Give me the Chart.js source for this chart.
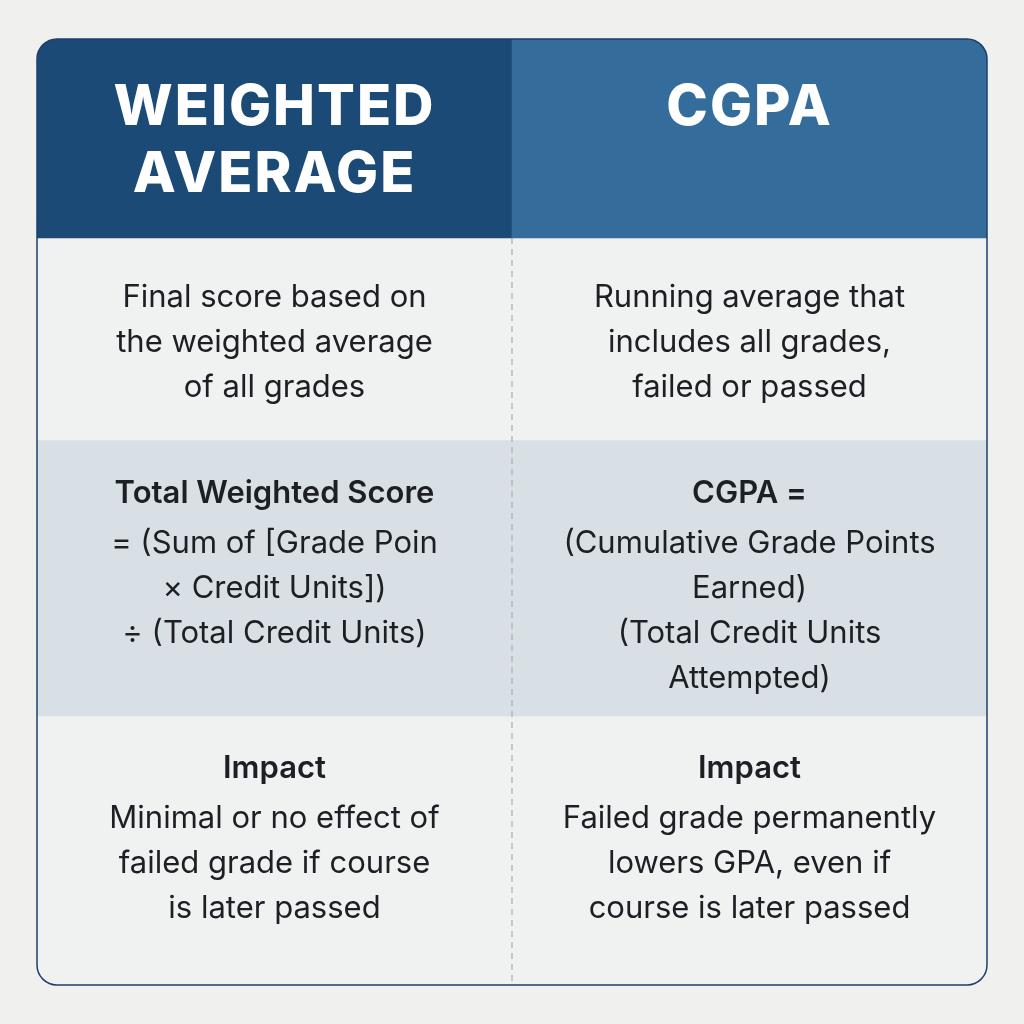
<!DOCTYPE html>
<html><head><meta charset="utf-8">
<script src="https://cdn.jsdelivr.net/npm/chart.js@4"></script>
<style>html,body{margin:0;background:#f0f0ef}canvas{display:block}</style>
</head><body><div style="width:1024px;height:1024px"><canvas id="c"></canvas></div>
<script>
const columns = ["WEIGHTED AVERAGE", "CGPA"];
const headerLines = [["WEIGHTED", "AVERAGE"], ["CGPA"]];
const rowBands = [[0, 199], [199, 401], [401, 677], [677, 946]];
const leftRows = [
  { bold: [], lines: ["Final score based on", "the weighted average", "of all grades"] },
  { bold: ["Total Weighted Score"], lines: ["= (Sum of [Grade Poin", "× Credit Units])", "÷ (Total Credit Units)"] },
  { bold: ["Impact"], lines: ["Minimal or no effect of", "failed grade if course", "is later passed"] }
];
const rightRows = [
  { bold: [], lines: ["Running average that", "includes all grades,", "failed or passed"] },
  { bold: ["CGPA ="], lines: ["(Cumulative Grade Points", "Earned)", "(Total Credit Units", "Attempted)"] },
  { bold: ["Impact"], lines: ["Failed grade permanently", "lowers GPA, even if", "course is later passed"] }
];
const rowTextTop = [[69, 136], [259], [455], [730]];

const leftColors = ["#1b4a77", "#f0f1f1", "#d8e0e6", "#f0f1f1"];
const rightColors = ["#346c9c", "#f0f1f1", "#d8e0e6", "#f0f1f1"];

const card = { l: 37, t: 39, r: 987, b: 985, rad: 20 };
function rr(ctx, x, y, w, h, r) {
  ctx.beginPath(); ctx.moveTo(x + r, y); ctx.arcTo(x + w, y, x + w, y + h, r);
  ctx.arcTo(x + w, y + h, x, y + h, r); ctx.arcTo(x, y + h, x, y, r); ctx.arcTo(x, y, x + w, y, r); ctx.closePath();
}
const tablePlugin = {
  id: 'table',
  beforeDraw(ch) { const c = ch.ctx; c.save(); c.fillStyle = '#f0f0ef'; c.fillRect(0, 0, ch.width, ch.height); c.restore(); },
  beforeDatasetsDraw(ch) { const a = ch.chartArea, c = ch.ctx; c.save(); rr(c, a.left, a.top, a.right - a.left, a.bottom - a.top, card.rad); c.clip(); },
  afterDatasetsDraw(ch) {
    const c = ch.ctx, a = ch.chartArea, x = ch.scales.x, y = ch.scales.y;
    c.restore();
    const mid = (x.getPixelForValue(0) + x.getPixelForValue(1)) / 2;
    c.save(); c.strokeStyle = '#a8acb0'; c.lineWidth = 1.2; c.setLineDash([6, 5]);
    c.beginPath(); c.moveTo(mid, y.getPixelForValue(rowBands[1][0])); c.lineTo(mid, a.bottom); c.stroke(); c.restore();
    c.save(); c.strokeStyle = '#1e3f6b'; c.lineWidth = 1.5; rr(c, a.left, a.top, a.right - a.left, a.bottom - a.top, card.rad); c.stroke(); c.restore();
    c.save(); c.textAlign = 'center'; c.textBaseline = 'middle';
    c.fillStyle = '#ffffff'; c.font = '800 56px Inter, "Open Sans", sans-serif';
    c.letterSpacing = '2px';
    headerLines.forEach((ls, ci) => {
      const cx = x.getPixelForValue(ci);
      ls.forEach((t, i) => c.fillText(t, cx, y.getPixelForValue(rowTextTop[0][i])));
    });
    c.letterSpacing = '0px';
    c.fillStyle = '#1c1f24';
    [leftRows, rightRows].forEach((rows, ci) => {
      const cx = x.getPixelForValue(ci);
      rows.forEach((r, ri) => {
        let yy = rowTextTop[ri + 1][0];
        r.bold.forEach(t => { c.font = '600 31px Inter, sans-serif'; c.fillText(t, cx, y.getPixelForValue(yy)); yy += 50; });
        r.lines.forEach(t => { c.font = '400 31px Inter, sans-serif'; c.fillText(t, cx, y.getPixelForValue(yy)); yy += 45; });
      });
    });
    c.restore();
  }
};
new Chart(document.getElementById('c'), {
  type: 'bar',
  data: {
    labels: columns,
    datasets: rowBands.map((b, i) => ({
      data: [b, b],
      backgroundColor: [leftColors[i], rightColors[i]],
      borderWidth: 0, grouped: false, barPercentage: 1, categoryPercentage: 1
    }))
  },
  options: {
    responsive: true, maintainAspectRatio: false, animation: false,
    layout: { padding: { left: card.l, top: card.t, right: 1024 - card.r, bottom: 1024 - card.b } },
    plugins: { legend: { display: false }, tooltip: { enabled: false } },
    scales: {
      x: { display: false, offset: true },
      y: { display: false, min: 0, max: 946, reverse: true }
    }
  },
  plugins: [tablePlugin]
});
</script></body></html>
